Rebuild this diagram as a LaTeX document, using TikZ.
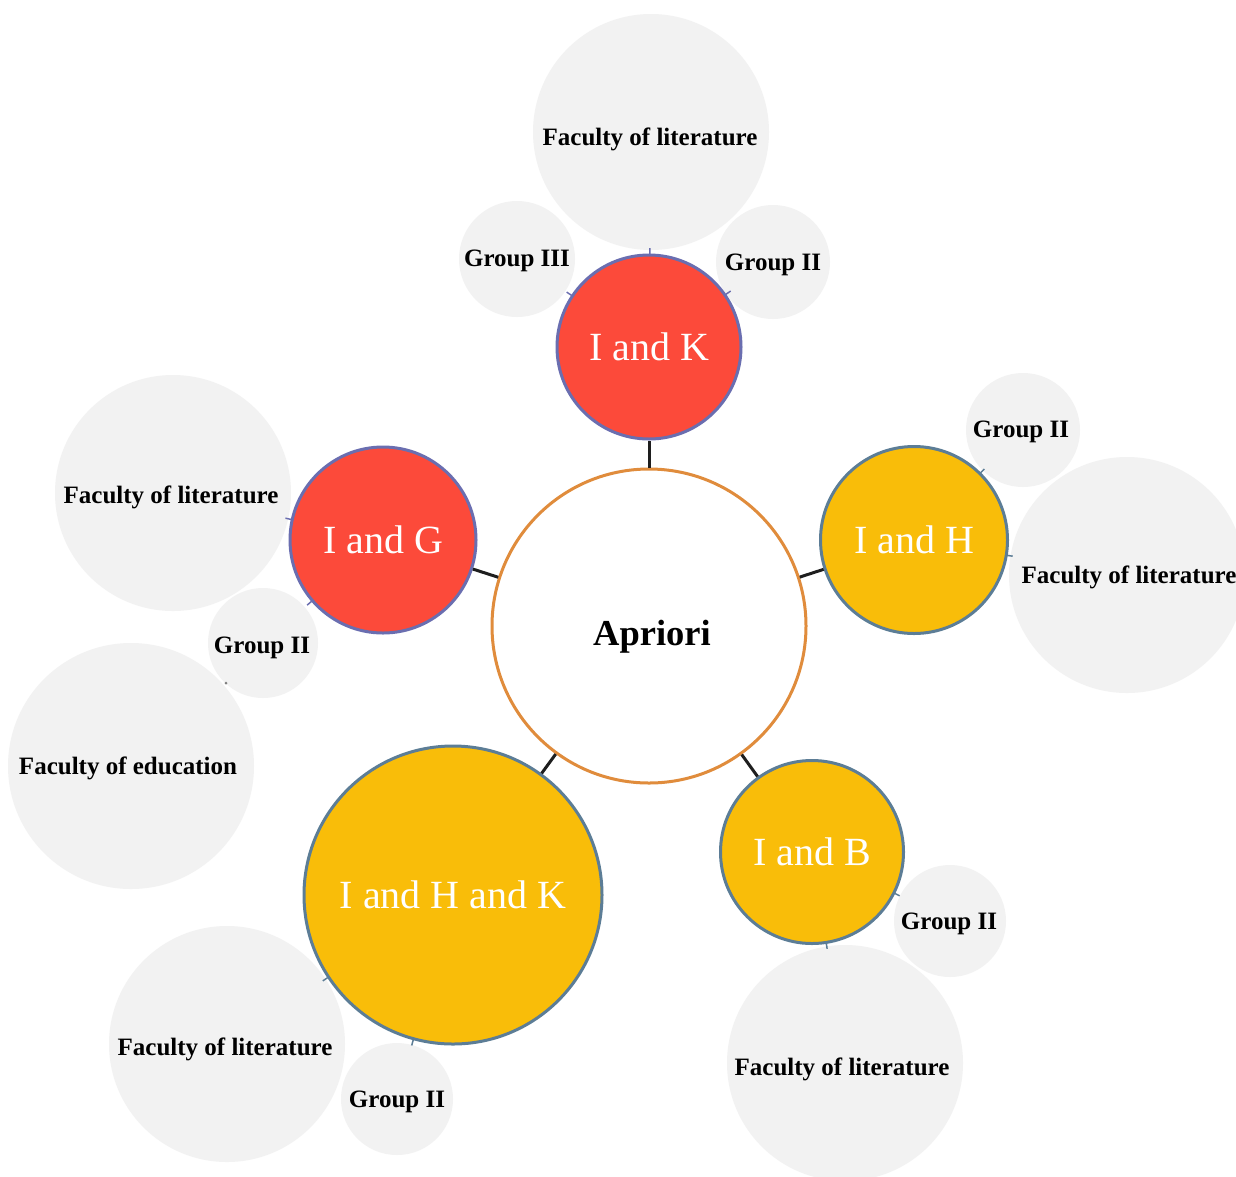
\documentclass[tikz,border=0pt]{standalone}
\usepackage{fontspec}
\setmainfont{Liberation Serif}
\usetikzlibrary{calc}
\definecolor{grayc}{RGB}{242,242,242}
\definecolor{redc}{RGB}{252,74,58}
\definecolor{redline}{RGB}{106,110,176}
\definecolor{yelc}{RGB}{249,189,9}
\definecolor{yelline}{RGB}{92,125,150}
\definecolor{orline}{RGB}{224,140,60}
\definecolor{conn}{RGB}{30,30,30}
\tikzset{
  graybub/.style={circle,fill=grayc,draw=none,inner sep=0pt,minimum size=#1},
  redsat/.style={circle,fill=redc,draw=redline,line width=3pt,inner sep=0pt,minimum size=#1,
    text=white,font=\fontsize{40}{44}\selectfont},
  yelsat/.style={circle,fill=yelc,draw=yelline,line width=3pt,inner sep=0pt,minimum size=#1,
    text=white,font=\fontsize{40}{44}\selectfont},
  hub/.style={circle,fill=white,draw=orline,line width=3pt,inner sep=0pt,minimum size=#1},
  link/.style={draw=conn,line width=3pt},
  tickm/.style={line width=1.5pt},
  lbl/.style={font=\fontsize{25}{28}\selectfont\bfseries,inner sep=0pt}
}
\begin{document}
\begin{tikzpicture}[x=1pt,y=-1pt]
\useasboundingbox (0,0) rectangle (1236,1176);
\clip (0,0) rectangle (1236,1176);
\fill[white] (0,0) rectangle (1236,1176);
% gray bubbles
\node[graybub=236] (fk) at (651,132) {};
\node[graybub=116] (g3k) at (517,259) {};
\node[graybub=114] (g2k) at (773,262) {};
\node[graybub=236] (fg) at (173,493) {};
\node[graybub=110] (g2g) at (263,643) {};
\node[graybub=246] (fe) at (131,766) {};
\node[graybub=114] (g2h) at (1023,430) {};
\node[graybub=236] (fh) at (1127,575) {};
\node[graybub=112] (g2b) at (950,921) {};
\node[graybub=236] (fb) at (845,1063) {};
\node[graybub=236] (fhk) at (227,1044) {};
\node[graybub=112] (g2hk) at (397,1099) {};
% bubble labels
\node[lbl] (tfk) at (650,139) {Faculty of literature};
\node[lbl] (tg3k) at (517,261) {Group III};
\node[lbl] (tg2k) at (773,265) {Group II};
\node[lbl] (tfg) at (171,497) {Faculty of literature};
\node[lbl] (tg2g) at (262,648) {Group II};
\node[lbl] (tfe) at (128,768) {Faculty of education};
\node[lbl] (tg2h) at (1021,432) {Group II};
\node[lbl] (tfh) at (1129,577) {Faculty of literature};
\node[lbl] (tg2b) at (949,924) {Group II};
\node[lbl] (tfb) at (842,1069) {Faculty of literature};
\node[lbl] (tfhk) at (225,1049) {Faculty of literature};
\node[lbl] (tg2hk) at (397,1102) {Group II};
% hub and satellites
\node[hub=314] (ap) at (649,626) {};
\node[font=\fontsize{36.5}{40}\selectfont\bfseries,inner sep=0pt] (apl) at (652,637) {Apriori};
\node[redsat=184] (ik) at (649,347) {I and K};
\node[redsat=186] (ig) at (383,540) {I and G};
\node[yelsat=187] (ih) at (914,540) {I and H};
\node[yelsat=183] (ib) at (812,852) {I and B};
\node[yelsat=298] (ihk) at (453,895) {I and H and K};
% links
\draw[link] (ap) -- (ik);
\draw[link] (ap) -- (ig);
\draw[link] (ap) -- (ih);
\draw[link] (ap) -- (ib);
\draw[link] (ap) -- (ihk);
% small ticks toward bubbles
\draw[tickm,redline] ($(ik)!93pt!(fk)$) -- ($(ik)!99pt!(fk)$);
\draw[tickm,redline] ($(ik)!93pt!(g3k)$) -- ($(ik)!99pt!(g3k)$);
\draw[tickm,redline] ($(ik)!93pt!(g2k)$) -- ($(ik)!99pt!(g2k)$);
\draw[tickm,redline] ($(ig)!94pt!(fg)$) -- ($(ig)!100pt!(fg)$);
\draw[tickm,redline] ($(ig)!94pt!(g2g)$) -- ($(ig)!100pt!(g2g)$);
\draw[tickm,yelline] ($(ih)!94pt!(g2h)$) -- ($(ih)!100pt!(g2h)$);
\draw[tickm,yelline] ($(ih)!94pt!(fh)$) -- ($(ih)!100pt!(fh)$);
\draw[tickm,yelline] ($(ib)!92pt!(g2b)$) -- ($(ib)!98pt!(g2b)$);
\draw[tickm,yelline] ($(ib)!92pt!(fb)$) -- ($(ib)!98pt!(fb)$);
\draw[tickm,yelline] ($(ihk)!150pt!(fhk)$) -- ($(ihk)!156pt!(fhk)$);
\draw[tickm,yelline] ($(ihk)!150pt!(g2hk)$) -- ($(ihk)!156pt!(g2hk)$);
\coordinate (dot) at (226,683);
\fill[gray] (dot) circle (1.5);
\end{tikzpicture}
\end{document}
